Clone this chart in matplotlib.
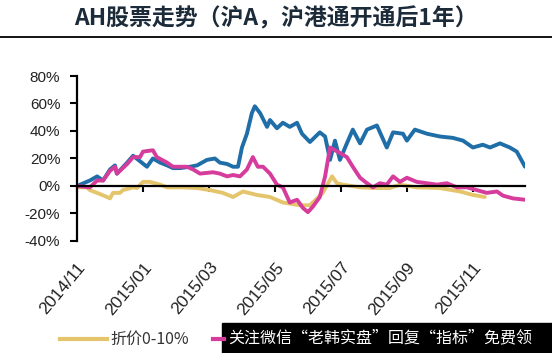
import matplotlib.pyplot as plt
from matplotlib.patches import Rectangle
from matplotlib.lines import Line2D

plt.rcParams['font.family'] = ['Liberation Sans', 'Noto Sans CJK SC', 'DejaVu Sans']
cjk = ['Noto Sans CJK SC', 'DejaVu Sans']

# x positions in months since the start of the chart (2014/11)
blue_x = [0, 0.39, 0.61, 0.79, 1.0, 1.15, 1.21, 1.52, 1.7, 1.91, 2.12, 2.3, 2.52, 2.73, 2.91,
          3.12, 3.42, 3.64, 3.94, 4.18, 4.33, 4.55, 4.73, 4.88, 5.0, 5.15, 5.3, 5.39, 5.55,
          5.76, 5.85, 6.06, 6.24, 6.45, 6.67, 6.82, 7.06, 7.36, 7.52, 7.67, 7.82, 7.97, 8.18,
          8.36, 8.58, 8.79, 9.09, 9.39, 9.58, 9.88, 10.0, 10.24, 10.61, 11.0, 11.39, 11.7,
          12.0, 12.3, 12.52, 12.82, 13.12, 13.33, 13.58]
blue_y = [0, 4, 7, 4, 12, 15, 9, 17, 22, 18, 14, 20, 17, 15, 13,
          13, 14, 15, 19, 20, 17, 16, 14, 14, 28, 38, 53, 58, 53,
          43, 48, 42, 46, 43, 46, 38, 32, 39, 36, 19, 33, 19, 31,
          41, 31, 41, 44, 28, 39, 38, 33, 41, 38, 36, 35, 33,
          28, 30, 28, 31, 28, 25, 14]

pink_x = [0, 0.39, 0.61, 0.79, 1.0, 1.15, 1.21, 1.52, 1.7, 1.91, 2.0, 2.3, 2.42, 2.73, 2.91,
          3.33, 3.52, 3.73, 4.12, 4.33, 4.55, 4.73, 4.94, 5.15, 5.33, 5.48, 5.64, 5.85, 6.06,
          6.24, 6.45, 6.67, 6.85, 7.0, 7.15, 7.36, 7.52, 7.67, 7.82, 7.97, 8.18, 8.36, 8.58,
          8.79, 8.97, 9.18, 9.39, 9.58, 9.79, 10.0, 10.3, 10.61, 10.91, 11.21, 11.52, 11.82,
          12.12, 12.42, 12.73, 12.91, 13.21, 13.58]
pink_y = [0, -1, 4, 4, 11, 14, 9, 16, 21, 21, 25, 26, 21, 17, 14,
          14, 12, 9, 10, 9, 7, 8, 7, 12, 21, 14, 14, 9, 1,
          -1, -12, -10, -16, -19, -15, -8, 7, 28, 26, 24, 21, 14, 6,
          2, -1, 2, 1, 7, 3, 6, 3, 2, 1, 2, -1, -1,
          -3, -5, -4, -7, -9, -10]

yellow_x = [0, 0.3, 0.39, 0.61, 0.91, 1.0, 1.09, 1.3, 1.39, 1.7, 1.82, 2.0, 2.21, 2.52, 2.73,
            3.21, 3.64, 4.03, 4.42, 4.73, 5.03, 5.45, 5.85, 6.24, 6.76, 7.06, 7.45, 7.73,
            7.88, 8.06, 8.58, 9.09, 9.48, 9.79, 10.3, 11.0, 11.61, 12.0, 12.36]
yellow_y = [-1, -1, -3, -5, -8, -9, -5, -5, -3, -1, -1.5, 3, 3, 1, -1,
            -1, -1.5, -3, -5, -8, -4, -6.5, -8, -12, -14, -14, -5, 7,
            2, 1, -1, -1.5, -1.5, 1, -1, -1.5, -4, -6.5, -8]

tick_pos = [0, 2, 4, 6, 8, 10, 12]
tick_labels = ['2014/11', '2015/01', '2015/03', '2015/05', '2015/07', '2015/09', '2015/11']
y_ticks = [-40, -20, 0, 20, 40, 60, 80]

fig = plt.figure(figsize=(5.52, 3.53), dpi=100)
ax = fig.add_axes([0.1395, 0.3173, 0.8116, 0.4674])

ax.plot(yellow_x, yellow_y, color='#e5c56c', lw=2.8, solid_capstyle='round')
ax.plot(blue_x, blue_y, color='#1f6ea8', lw=2.8, solid_capstyle='round')
ax.plot(pink_x, pink_y, color='#d63c9c', lw=2.8, solid_capstyle='round')

ax.set_xlim(0, 13.58)
ax.set_ylim(-40, 80)
ax.set_yticks(y_ticks)
ax.set_yticklabels([f'{v}%' for v in y_ticks], fontsize=11, color='#222222')
ax.tick_params(axis='y', direction='out', length=5, width=1.5, pad=7)

ax.spines['top'].set_visible(False)
ax.spines['right'].set_visible(False)
ax.spines['left'].set_linewidth(1.6)
ax.spines['bottom'].set_position(('data', 0))
ax.spines['bottom'].set_linewidth(1.6)
ax.set_xticks(tick_pos)
ax.set_xticklabels(tick_labels, fontsize=12.5, rotation=50, ha='right',
                   rotation_mode='anchor', color='#222222')
ax.tick_params(axis='x', direction='out', length=4, width=1.5, pad=49)

fig.text(0.5, 0.948, 'AH股票走势（沪A，沪港通开通后1年）', ha='center', va='center',
         fontsize=16.5, fontweight='bold', color='#1c2b3a', family=cjk)
fig.add_artist(Line2D([0, 1], [1 - 37 / 353, 1 - 37 / 353], color='black', lw=1.3,
                      transform=fig.transFigure))

# legend row (partly covered by a black banner)
ly = 1 - 339 / 353
fig.add_artist(Line2D([60 / 552, 107 / 552], [ly, ly], color='#e5c56c', lw=3,
                      transform=fig.transFigure))
fig.text(110 / 552, ly, '折价0-10%', ha='left', va='center', fontsize=11.5,
         color='#333333', family=cjk)
fig.add_artist(Line2D([213 / 552, 224 / 552], [ly, ly], color='#d63c9c', lw=3,
                      transform=fig.transFigure))
fig.add_artist(Rectangle((222 / 552, 0), 1, 30 / 353, color='black',
                         transform=fig.transFigure))
fig.text(228 / 552, 15 / 353, '关注微信“老韩实盘”回复“指标”免费领', ha='left',
         va='center', fontsize=11.5, color='white', family=cjk)

fig.savefig('out.png', dpi=100)
